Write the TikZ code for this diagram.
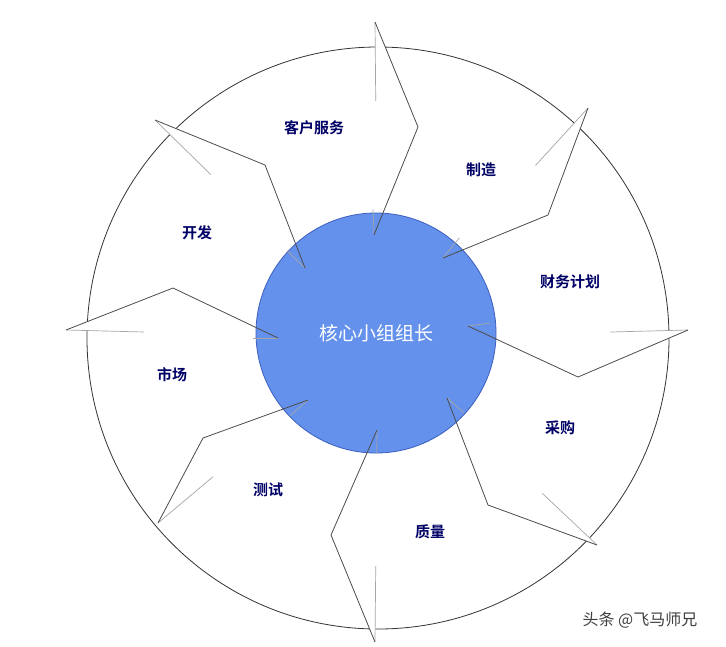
\documentclass[tikz,border=0pt]{standalone}
\usepackage{fontspec}
\newfontfamily\cjk{Noto Sans CJK SC}
\newfontfamily\cjkb{Noto Sans CJK SC Bold}
\usetikzlibrary{calc}
\begin{document}
\begin{tikzpicture}[x=1pt,y=-1pt,
  lab/.style={font=\cjkb\fontsize{15}{15}\selectfont, text=blue!40!black},
  chev/.style={draw=black!70, line width=0.8pt, line join=miter},
  tail/.style={draw=black!35, line width=0.7pt}]
\useasboundingbox (0,0) rectangle (726,646);
\fill[white] (0,0) rectangle (726,646);
\coordinate (C) at (378,338);
\node[circle, draw=black!80, line width=0.8pt, minimum size=582pt, inner sep=0pt] (outer) at (C) {};
\foreach \i/\ax/\ay/\bx/\by/\cx/\cy in {
  1/375/22/418/127/374/235,
  2/588/108/548/215/443/258,
  3/688/330/578/377/468/326,
  4/597/545/488/505/447/398,
  5/375/642/331/535/377/430,
  6/158/523/203/438/308/400,
  7/66/330/173/288/278/338,
  8/155/120/265/165/305/268}{
  \coordinate (p\i a) at (\ax,\ay);
  \coordinate (p\i b) at (\bx,\by);
  \coordinate (p\i c) at (\cx,\cy);
  \coordinate (p\i at) at ($(p\i a)!0.25!(C)$);
  \coordinate (p\i ct) at ($(p\i c)!-0.25!(C)$);
  \fill[white] (p\i at) -- (p\i a) -- (p\i b) -- (p\i c) -- (p\i ct) -- cycle;
}
\node[circle, fill={rgb,255:red,100;green,145;blue,235}, draw={rgb,255:red,60;green,95;blue,190}, line width=0.8pt, minimum size=240pt, inner sep=0pt] (inner) at (376,333) {};
\foreach \i in {1,...,8}{
  \draw[tail] (p\i at) -- (p\i a);
  \draw[tail] (p\i c) -- (p\i ct);
  \draw[chev] (p\i a) -- (p\i b) -- (p\i c);
}
\node[font=\cjk\fontsize{19}{19}\selectfont, text=white] (core) at (inner) {核心小组组长};
\node[lab] (s1) at (314,128) {客户服务};
\node[lab] (s2) at (481,170) {制造};
\node[lab] (s3) at (570,282) {财务计划};
\node[lab] (s4) at (560,428) {采购};
\node[lab] (s5) at (430,532) {质量};
\node[lab] (s6) at (268,490) {测试};
\node[lab] (s7) at (172,375) {市场};
\node[lab] (s8) at (197,233) {开发};
\node[font=\cjk\fontsize{16}{16}\selectfont, text=black!75] (wm) at (640,620) {头条 @飞马师兄};
\end{tikzpicture}
\end{document}
